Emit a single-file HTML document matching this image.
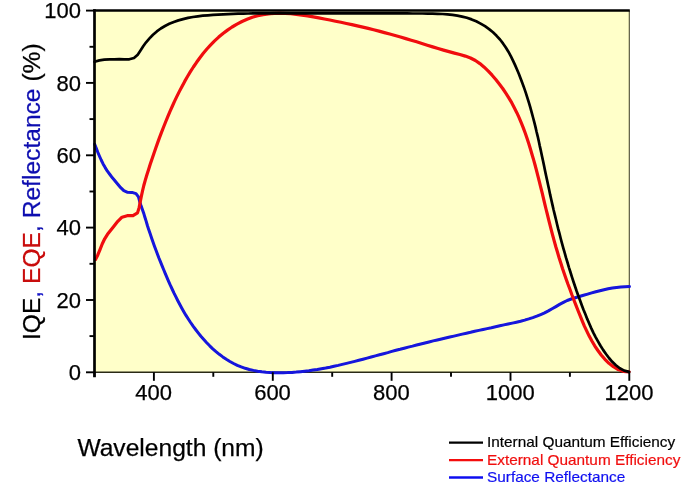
<!DOCTYPE html>
<html><head><meta charset="utf-8"><title>Quantum Efficiency</title>
<style>
html,body{margin:0;padding:0;background:#fff;}
body{width:689px;height:487px;overflow:hidden;font-family:"Liberation Sans",sans-serif;}
svg{display:block;}
text{font-family:"Liberation Sans",sans-serif;}
.tk{font-size:22px;fill:#000;stroke:#000;stroke-width:0.25px;}
.lg{font-size:15.35px;stroke-width:0.2px;}
</style></head><body>
<svg width="689" height="487" viewBox="0 0 689 487">
<defs><filter id="b" x="-5%" y="-5%" width="110%" height="110%"><feGaussianBlur stdDeviation="0.45"/></filter></defs>
<rect x="0" y="0" width="689" height="487" fill="#fff"/>
<g filter="url(#b)">
<rect x="94.5" y="10.6" width="534.8" height="361.7" fill="#ffffc9"/>
<!-- thin right & bottom frame -->
<line x1="629.3" y1="10.6" x2="629.3" y2="372.3" stroke="#4a4a30" stroke-width="1.1"/>
<line x1="94.5" y1="372.3" x2="629.8" y2="372.3" stroke="#2a2a18" stroke-width="1.5"/>
<!-- curves -->
<g fill="none" stroke-linecap="round" stroke-linejoin="round">
<path d="M94.7 144.2 L96.2 148.1 L97.7 152.0 L99.4 156.0 L101.2 160.0 L103.1 163.9 L105.2 167.6 L107.4 171.2 L109.9 174.5 L112.4 177.8 L115.1 181.0 L117.8 184.3 L120.7 187.7 L123.8 190.7 L127.6 192.3 L132.0 192.4 L136.0 193.6 L138.5 196.9 L139.6 201.2 L140.9 205.2 L142.3 209.2 L143.7 213.2 L144.9 217.3 L146.2 221.4 L147.4 225.5 L148.7 229.6 L150.1 233.6 L151.5 237.7 L152.9 241.7 L154.3 245.7 L155.8 249.7 L157.3 253.7 L158.8 257.7 L160.4 261.6 L162.0 265.6 L163.6 269.5 L165.2 273.4 L166.9 277.4 L168.6 281.3 L170.3 285.2 L172.1 289.0 L173.9 292.9 L175.8 296.7 L177.7 300.5 L179.7 304.3 L181.7 308.0 L183.8 311.7 L186.0 315.4 L188.3 319.0 L190.6 322.5 L193.1 326.1 L195.6 329.5 L198.2 332.9 L200.9 336.3 L203.8 339.5 L206.7 342.7 L209.7 345.8 L212.8 348.8 L216.0 351.6 L219.3 354.3 L222.8 356.9 L226.3 359.3 L229.9 361.5 L233.6 363.5 L237.3 365.3 L241.2 366.9 L245.2 368.3 L249.3 369.5 L253.4 370.4 L257.6 371.2 L261.8 371.8 L266.1 372.3 L270.4 372.6 L274.7 372.7 L279.0 372.8 L283.3 372.7 L287.6 372.6 L291.9 372.4 L296.2 372.1 L300.4 371.7 L304.7 371.2 L308.9 370.7 L313.1 370.1 L317.3 369.5 L321.5 368.7 L325.7 368.0 L329.9 367.2 L334.0 366.3 L338.2 365.4 L342.3 364.4 L346.5 363.4 L350.6 362.4 L354.7 361.4 L358.9 360.3 L363.0 359.2 L367.1 358.1 L371.2 357.0 L375.4 355.9 L379.5 354.8 L383.6 353.7 L387.7 352.6 L391.8 351.4 L396.0 350.3 L400.1 349.3 L404.2 348.2 L408.3 347.1 L412.5 346.1 L416.6 345.0 L420.8 344.0 L424.9 343.0 L429.0 342.0 L433.2 340.9 L437.3 340.0 L441.5 339.0 L445.6 338.0 L449.8 337.0 L453.9 336.1 L458.1 335.1 L462.3 334.1 L466.4 333.2 L470.6 332.3 L474.7 331.3 L478.9 330.4 L483.1 329.5 L487.2 328.6 L491.4 327.7 L495.6 326.7 L499.8 325.8 L503.9 324.9 L508.1 324.0 L512.3 323.1 L516.4 322.2 L520.6 321.2 L524.7 320.1 L528.8 318.9 L532.8 317.6 L536.8 316.2 L540.7 314.6 L544.6 312.9 L548.4 310.9 L552.1 308.8 L555.9 306.6 L559.6 304.4 L563.4 302.4 L567.2 300.5 L571.2 299.0 L575.3 297.7 L579.4 296.5 L583.5 295.3 L587.6 294.1 L591.7 292.9 L595.8 291.7 L599.9 290.7 L604.0 289.7 L608.2 288.8 L612.4 288.0 L616.6 287.4 L620.8 286.9 L625.1 286.7 L629.4 286.6" stroke="#1212dc" stroke-width="3.0"/>
<path d="M95.5 259.4 L97.8 254.9 L100.0 249.6 L102.2 244.0 L104.7 238.8 L107.5 234.3 L110.7 230.2 L114.1 225.9 L117.8 221.3 L122.0 217.2 L127.2 215.7 L133.0 215.6 L137.5 212.9 L139.2 207.4 L140.2 201.9 L141.3 196.5 L142.5 191.0 L143.8 185.5 L145.3 180.1 L146.9 174.7 L148.6 169.4 L150.3 164.1 L152.1 158.7 L153.9 153.5 L155.7 148.2 L157.6 142.9 L159.5 137.6 L161.5 132.4 L163.5 127.2 L165.6 122.0 L167.7 116.8 L169.9 111.6 L172.2 106.5 L174.5 101.4 L176.9 96.4 L179.4 91.4 L182.0 86.4 L184.7 81.4 L187.5 76.5 L190.4 71.7 L193.4 67.0 L196.6 62.3 L199.9 57.7 L203.3 53.3 L206.9 49.0 L210.7 44.9 L214.6 40.9 L218.7 37.1 L223.0 33.5 L227.5 30.1 L232.1 27.0 L237.0 24.1 L242.0 21.5 L247.1 19.3 L252.3 17.3 L257.7 15.8 L263.1 14.6 L268.5 13.8 L274.1 13.3 L279.6 13.2 L285.2 13.3 L290.8 13.7 L296.4 14.3 L302.0 15.1 L307.6 15.9 L313.3 16.9 L318.8 17.9 L324.4 19.0 L329.9 20.0 L335.5 21.2 L341.0 22.3 L346.4 23.5 L351.9 24.6 L357.3 25.9 L362.8 27.1 L368.2 28.4 L373.6 29.8 L379.0 31.1 L384.4 32.6 L389.7 34.0 L395.1 35.5 L400.5 37.0 L405.8 38.6 L411.2 40.2 L416.6 41.8 L421.9 43.5 L427.3 45.2 L432.7 46.9 L438.1 48.5 L443.5 50.1 L449.0 51.6 L454.4 53.1 L459.9 54.5 L465.3 56.1 L470.5 58.0 L475.4 60.5 L479.9 63.6 L484.2 67.2 L488.3 71.1 L492.1 75.2 L495.8 79.5 L499.3 84.0 L502.7 88.5 L505.8 93.2 L508.8 97.9 L511.7 102.7 L514.3 107.7 L516.8 112.7 L519.1 117.7 L521.3 122.9 L523.4 128.1 L525.3 133.3 L527.1 138.6 L528.9 144.0 L530.5 149.3 L532.1 154.7 L533.7 160.1 L535.2 165.5 L536.6 170.9 L538.0 176.4 L539.4 181.8 L540.7 187.2 L542.1 192.7 L543.4 198.1 L544.7 203.6 L546.0 209.0 L547.4 214.5 L548.7 219.9 L550.1 225.3 L551.5 230.8 L552.9 236.2 L554.4 241.6 L555.9 247.0 L557.5 252.3 L559.1 257.7 L560.8 263.0 L562.5 268.4 L564.3 273.7 L566.1 279.0 L568.0 284.3 L570.0 289.5 L571.9 294.8 L573.9 300.0 L576.0 305.3 L578.0 310.5 L580.1 315.7 L582.2 320.9 L584.4 326.1 L586.8 331.1 L589.2 336.1 L591.9 341.0 L594.7 345.8 L597.9 350.5 L601.2 355.0 L604.9 359.3 L609.0 363.3 L613.4 366.7 L618.2 369.5 L623.4 371.3 L629.1 371.9" stroke="#f00a10" stroke-width="3.2"/>
<path d="M94.6 61.8 L99.4 60.4 L104.3 59.7 L109.3 59.4 L114.3 59.3 L119.3 59.2 L124.3 59.4 L129.3 59.3 L134.0 58.0 L137.7 54.7 L140.5 50.5 L143.2 46.3 L146.1 42.3 L149.5 38.4 L153.0 34.7 L156.8 31.4 L160.8 28.5 L165.0 26.0 L169.3 23.8 L173.8 22.0 L178.4 20.4 L183.1 19.1 L188.0 17.9 L192.9 17.0 L197.8 16.3 L202.8 15.7 L207.9 15.3 L213.0 14.9 L218.0 14.6 L223.1 14.3 L228.1 14.1 L233.1 13.9 L238.1 13.7 L243.1 13.6 L248.1 13.5 L253.1 13.4 L258.1 13.4 L263.0 13.3 L268.0 13.3 L273.0 13.3 L277.9 13.3 L282.9 13.3 L287.8 13.4 L292.8 13.4 L297.7 13.4 L302.7 13.4 L307.7 13.4 L312.6 13.4 L317.6 13.4 L322.6 13.4 L327.5 13.4 L332.5 13.4 L337.5 13.4 L342.5 13.4 L347.4 13.4 L352.4 13.4 L357.4 13.4 L362.4 13.4 L367.4 13.4 L372.4 13.4 L377.4 13.4 L382.4 13.4 L387.4 13.4 L392.4 13.4 L397.4 13.4 L402.4 13.4 L407.5 13.4 L412.5 13.5 L417.5 13.5 L422.5 13.5 L427.5 13.6 L432.6 13.6 L437.6 13.8 L442.6 14.0 L447.5 14.3 L452.5 14.9 L457.3 15.6 L462.1 16.6 L466.9 17.8 L471.6 19.4 L476.2 21.3 L480.6 23.6 L485.0 26.2 L489.1 29.1 L493.0 32.3 L496.6 35.8 L500.0 39.5 L503.0 43.4 L505.8 47.5 L508.4 51.7 L510.8 56.1 L513.0 60.6 L515.1 65.1 L517.1 69.7 L519.0 74.3 L520.8 79.0 L522.6 83.7 L524.3 88.4 L525.9 93.1 L527.4 97.8 L528.9 102.6 L530.3 107.4 L531.6 112.2 L532.9 117.0 L534.2 121.8 L535.4 126.6 L536.5 131.5 L537.7 136.3 L538.8 141.2 L539.8 146.1 L540.9 150.9 L541.9 155.8 L543.0 160.7 L544.0 165.6 L545.0 170.5 L546.0 175.3 L547.1 180.2 L548.1 185.1 L549.2 190.0 L550.2 194.9 L551.3 199.7 L552.4 204.6 L553.5 209.5 L554.7 214.3 L555.9 219.2 L557.0 224.0 L558.2 228.9 L559.5 233.7 L560.7 238.5 L562.0 243.3 L563.3 248.1 L564.7 252.9 L566.0 257.7 L567.5 262.5 L568.9 267.3 L570.4 272.0 L571.9 276.8 L573.4 281.5 L575.0 286.2 L576.6 291.0 L578.3 295.7 L580.0 300.3 L581.7 305.0 L583.5 309.7 L585.4 314.3 L587.2 318.9 L589.2 323.5 L591.2 328.1 L593.3 332.6 L595.6 337.1 L598.0 341.4 L600.5 345.7 L603.1 349.9 L606.0 354.0 L609.0 358.0 L612.3 361.8 L615.9 365.3 L619.8 368.3 L624.2 370.6 L629.1 371.9" stroke="#000" stroke-width="2.7"/>
</g>
<!-- thick left & top axes -->
<line x1="94.5" y1="9.3" x2="94.5" y2="377.3" stroke="#000" stroke-width="2.7"/>
<line x1="93.2" y1="10.6" x2="629.8" y2="10.6" stroke="#000" stroke-width="2.5"/>
<line x1="86.0" y1="372.3" x2="94.5" y2="372.3" stroke="#000" stroke-width="1.9"/>
<line x1="89.5" y1="336.1" x2="94.5" y2="336.1" stroke="#000" stroke-width="1.9"/>
<line x1="86.0" y1="300.0" x2="94.5" y2="300.0" stroke="#000" stroke-width="1.9"/>
<line x1="89.5" y1="263.8" x2="94.5" y2="263.8" stroke="#000" stroke-width="1.9"/>
<line x1="86.0" y1="227.6" x2="94.5" y2="227.6" stroke="#000" stroke-width="1.9"/>
<line x1="89.5" y1="191.5" x2="94.5" y2="191.5" stroke="#000" stroke-width="1.9"/>
<line x1="86.0" y1="155.3" x2="94.5" y2="155.3" stroke="#000" stroke-width="1.9"/>
<line x1="89.5" y1="119.1" x2="94.5" y2="119.1" stroke="#000" stroke-width="1.9"/>
<line x1="86.0" y1="82.9" x2="94.5" y2="82.9" stroke="#000" stroke-width="1.9"/>
<line x1="89.5" y1="46.8" x2="94.5" y2="46.8" stroke="#000" stroke-width="1.9"/>
<line x1="86.0" y1="10.6" x2="94.5" y2="10.6" stroke="#000" stroke-width="1.9"/>
<line x1="94.5" y1="372.3" x2="94.5" y2="376.8" stroke="#000" stroke-width="1.9"/>
<line x1="153.9" y1="372.3" x2="153.9" y2="380.8" stroke="#000" stroke-width="1.9"/>
<line x1="213.3" y1="372.3" x2="213.3" y2="376.8" stroke="#000" stroke-width="1.9"/>
<line x1="272.8" y1="372.3" x2="272.8" y2="380.8" stroke="#000" stroke-width="1.9"/>
<line x1="332.2" y1="372.3" x2="332.2" y2="376.8" stroke="#000" stroke-width="1.9"/>
<line x1="391.6" y1="372.3" x2="391.6" y2="380.8" stroke="#000" stroke-width="1.9"/>
<line x1="451.0" y1="372.3" x2="451.0" y2="376.8" stroke="#000" stroke-width="1.9"/>
<line x1="510.5" y1="372.3" x2="510.5" y2="380.8" stroke="#000" stroke-width="1.9"/>
<line x1="569.9" y1="372.3" x2="569.9" y2="376.8" stroke="#000" stroke-width="1.9"/>
<line x1="629.3" y1="372.3" x2="629.3" y2="380.8" stroke="#000" stroke-width="1.9"/>

<text x="81" y="380.0" text-anchor="end" class="tk">0</text>
<text x="81" y="307.7" text-anchor="end" class="tk">20</text>
<text x="81" y="235.3" text-anchor="end" class="tk">40</text>
<text x="81" y="163.0" text-anchor="end" class="tk">60</text>
<text x="81" y="90.6" text-anchor="end" class="tk">80</text>
<text x="81" y="18.3" text-anchor="end" class="tk">100</text>

<text x="153.6" y="400.3" text-anchor="middle" class="tk">400</text>
<text x="272.5" y="400.3" text-anchor="middle" class="tk">600</text>
<text x="391.3" y="400.3" text-anchor="middle" class="tk">800</text>
<text x="510.2" y="400.3" text-anchor="middle" class="tk">1000</text>
<text x="629.0" y="400.3" text-anchor="middle" class="tk">1200</text>

<text x="77.4" y="455.8" font-size="24.6" fill="#000" stroke="#000" stroke-width="0.25">Wavelength (nm)</text>
<text transform="translate(40.2,340) rotate(-90)" font-size="24.6" stroke-width="0.25"><tspan fill="#000" stroke="#000">IQE</tspan><tspan fill="#1818c8" stroke="#1818c8">,</tspan><tspan fill="#c80808" stroke="#c80808"> EQE</tspan><tspan fill="#1010b0" stroke="#1010b0">, Reflectance</tspan><tspan fill="#000" stroke="#000"> (%)</tspan></text>
<!-- legend -->
<line x1="449" y1="442.6" x2="483" y2="442.6" stroke="#000" stroke-width="2.3"/>
<line x1="449" y1="460.1" x2="483" y2="460.1" stroke="#f40808" stroke-width="2.3"/>
<line x1="449" y1="477.5" x2="483" y2="477.5" stroke="#1010f0" stroke-width="2.3"/>
<text x="487" y="446.8" class="lg" fill="#000" stroke="#000">Internal Quantum Efficiency</text>
<text x="487" y="464.6" class="lg" fill="#f01010" stroke="#f01010">External Quantum Efficiency</text>
<text x="487" y="482.2" class="lg" fill="#1010f0" stroke="#1010f0">Surface Reflectance</text>
</g>
</svg>
</body></html>
